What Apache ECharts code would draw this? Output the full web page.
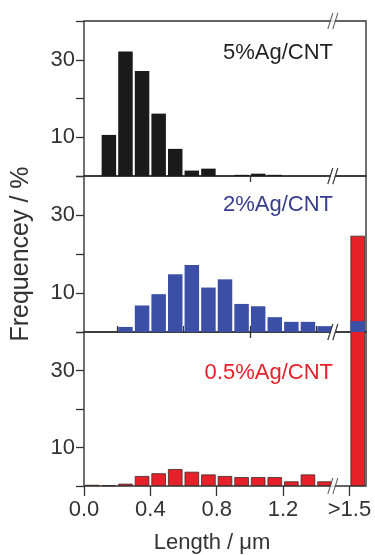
<!DOCTYPE html>
<html>
<head>
<meta charset="utf-8">
<script src="https://cdn.jsdelivr.net/npm/echarts@6/dist/echarts.min.js"></script>
<style>
  html, body { margin: 0; padding: 0; background: #fff; }
  #chart { width: 375px; height: 555px; }
</style>
</head>
<body>
<div id="chart"></div>
<script>
// bin centres (0.1 um bins), last one is the ">1.5" bin
var binCenters = [0.05, 0.15, 0.25, 0.35, 0.45, 0.55, 0.65, 0.75, 0.85, 0.95, 1.05, 1.15, 1.25, 1.35, 1.45, 1.65];
var ag5 = [0, 10.6, 32.1, 27.1, 16.1, 7.0, 1.4, 1.9, 0, 0.3, 0.6, 0.3, 0, 0, 0, 0];
var ag2 = [0, 0, 1.3, 6.8, 9.7, 14.8, 17.2, 11.4, 13.5, 7.2, 6.6, 3.8, 2.6, 2.6, 1.5, 2.8];
var ag05 = [0.3, 0.2, 0.6, 2.6, 3.3, 4.4, 3.7, 3.0, 2.6, 2.3, 2.3, 2.3, 1.2, 3.0, 1.2, 65];

var panelNames = ['5%Ag/CNT', '2%Ag/CNT', '0.5%Ag/CNT'];
var panelColors = ['#1a1a1a', '#3b4fa6', '#e62129'];
var nameColors = ['#231f20', '#353d8c', '#e62129'];

var xTickValues = [0, 0.4, 0.8, 1.2, 1.6];
var xTickLabels = ['0.0', '0.4', '0.8', '1.2', '>1.5'];
var xMinorTicks = [0.2, 0.6, 1.0, 1.4];
var innerTicks = [1.0];
var yTickValues = [0, 10, 20, 30, 40];
var yLabelValues = [10, 30];
var breakAt = 1.5;

var FONT = 'Liberation Sans';
var LINE = '#333';

var chart = echarts.init(document.getElementById('chart'));

var grids = [
  { left: 84, right: 9, top: 21, height: 155 },
  { left: 84, right: 9, top: 176, height: 156 },
  { left: 84, right: 9, top: 332, height: 155 }
];
grids.forEach(function (g) {
  g.show = true;
  g.borderColor = LINE;
  g.borderWidth = 1.4;
  g.backgroundColor = 'transparent';
});

var xAxes = [];
var yAxes = [];
for (var i = 0; i < 3; i++) {
  var bottom = i === 2;
  xAxes.push({
    type: 'value',
    gridIndex: i,
    min: 0,
    max: 1.7,
    axisLine: { show: false },
    splitLine: { show: false },
    axisTick: {
      show: true,
      customValues: bottom ? xTickValues : innerTicks,
      length: bottom ? 10 : 6,
      lineStyle: { color: LINE, width: 1.3 }
    },
    axisLabel: {
      show: bottom,
      customValues: xTickValues,
      margin: 13,
      fontSize: 22,
      fontFamily: FONT,
      color: '#333',
      formatter: function (v) {
        var k = xTickValues.indexOf(Math.round(v * 10) / 10);
        return k >= 0 ? xTickLabels[k] : '';
      }
    },
    name: bottom ? 'Length / \u03bcm' : '',
    nameLocation: 'middle',
    nameGap: 46,
    nameTextStyle: { fontSize: 22, fontFamily: FONT, color: '#333', padding: [0, 26, 0, 0] }
  });
  yAxes.push({
    type: 'value',
    gridIndex: i,
    min: 0,
    max: 40,
    interval: 10,
    axisLine: { show: false },
    splitLine: { show: false },
    axisTick: {
      show: true,
      customValues: yTickValues,
      length: 8,
      lineStyle: { color: LINE, width: 1.3 }
    },
    axisLabel: {
      customValues: yLabelValues,
      margin: 9,
      fontSize: 22,
      fontFamily: FONT,
      color: '#333'
    },
    name: i === 1 ? 'Frequencey / %' : '',
    nameLocation: 'middle',
    nameGap: 50,
    nameTextStyle: { fontSize: 25, fontFamily: FONT, color: '#333' }
  });
}
// short minor ticks on the bottom panel
xAxes.push({
  type: 'value',
  gridIndex: 2,
  min: 0,
  max: 1.7,
  axisLine: { show: false },
  splitLine: { show: false },
  axisLabel: { show: false },
  axisTick: {
    show: true,
    customValues: xMinorTicks,
    length: 6,
    lineStyle: { color: LINE, width: 1.3 }
  }
});

var samples = [ag5, ag2, ag05];
var series = [];
samples.forEach(function (vals, i) {
  series.push({
    type: 'bar',
    xAxisIndex: i,
    yAxisIndex: i,
    barWidth: 14.5,
    clip: false,
    z: i === 1 ? 4 : 2,
    itemStyle: {
      color: panelColors[i],
      borderColor: '#3a2a2a',
      borderWidth: i === 2 ? 0.8 : 0
    },
    // empty bins are left out so no border line is drawn for them
    data: binCenters.map(function (x, k) { return vals[k] > 0 ? [x, vals[k]] : [x, '-']; })
  });
  // axis break marks "//"
  var marks = [[breakAt, 0], [breakAt, 40]];
  series.push({
    type: 'scatter',
    xAxisIndex: i,
    yAxisIndex: i,
    clip: false,
    silent: true,
    z: 6,
    symbol: 'path://M0,16L5,0L10,0L5,16Z',
    symbolSize: [10, 16],
    itemStyle: { color: '#fff', borderWidth: 0 },
    data: marks
  });
  series.push({
    type: 'scatter',
    xAxisIndex: i,
    yAxisIndex: i,
    clip: false,
    silent: true,
    z: 7,
    symbol: 'path://M0,16L5,0M5,16L10,0',
    symbolSize: [10, 16],
    itemStyle: { color: 'transparent', borderColor: LINE, borderWidth: 1.3 },
    data: marks
  });
});

var labelTops = [42, 194, 362];
var graphics = panelNames.map(function (t, i) {
  return {
    type: 'text',
    right: 42,
    top: labelTops[i],
    z: 10,
    style: { text: t, fill: nameColors[i], font: '22px "' + FONT + '"' }
  };
});

chart.setOption({
  animation: false,
  grid: grids,
  xAxis: xAxes,
  yAxis: yAxes,
  series: series,
  graphic: graphics
});
</script>
</body>
</html>
